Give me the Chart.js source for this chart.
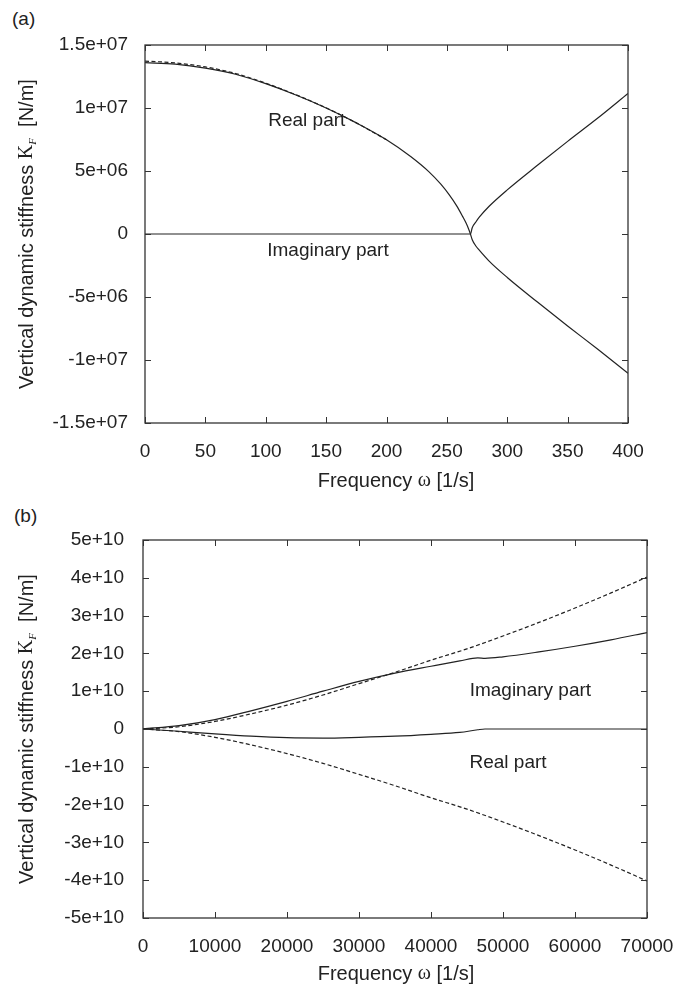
<!DOCTYPE html>
<html>
<head>
<meta charset="utf-8">
<script src="https://cdn.jsdelivr.net/npm/chart.js@4.4.0/dist/chart.umd.min.js"></script>
<style>
  body { margin: 0; background: #fff; width: 679px; height: 986px; overflow: hidden; position: relative; }
  canvas { position: absolute; left: 0; }
  .panel { position: absolute; font: 19px "Liberation Sans", Arial, sans-serif; color: #222; }
</style>
</head>
<body>
<div class="panel" style="left:12px; top:8px;">(a)</div>
<div class="panel" style="left:14px; top:505px;">(b)</div>
<canvas id="chartA" width="679" height="495" style="top:0"></canvas>
<canvas id="chartB" width="679" height="491" style="top:495px"></canvas>
<script>
// ---- panel (a): low frequency range ----
const freqA = [0, 25, 50, 75, 100, 125, 150, 175, 200, 220, 235, 245, 252, 258, 263, 266, 268, 269.5,
               271, 274, 277, 285, 300, 325, 350, 375, 400];
const realA = [13.6, 13.48, 13.17, 12.68, 11.93, 11.03, 10.0, 8.82, 7.48, 6.15, 4.95, 3.95, 3.1, 2.25, 1.4, 0.85, 0.4, 0,
               -0.45, -0.95, -1.3, -2.15, -3.45, -5.4, -7.3, -9.15, -11.05];
const imagA = [0, 0, 0, 0, 0, 0, 0, 0, 0, 0, 0, 0, 0, 0, 0, 0, 0, 0,
               0.5, 0.95, 1.35, 2.2, 3.5, 5.45, 7.35, 9.2, 11.15];
// approximation (dashed), merges with the real part
const freqApproxA = [0, 25, 50, 75, 100, 125, 150, 175, 200];
const realApproxA = [13.72, 13.58, 13.26, 12.74, 11.97, 11.05, 10.01, 8.82, 7.48];
const ticksXA = [0, 50, 100, 150, 200, 250, 300, 350, 400];
const ticksYA = [-1.5e7, -1e7, -5e6, 0, 5e6, 1e7, 1.5e7];

// ---- panel (b): high frequency range ----
const freqB = [0, 5000, 10000, 15000, 20000, 25000, 30000, 35000, 40000, 44000, 46500, 47500,
               50000, 55000, 60000, 65000, 70000];
const imagB = [0, 0.09, 0.25, 0.48, 0.73, 1.0, 1.26, 1.48, 1.66, 1.8, 1.88, 1.87,
               1.91, 2.04, 2.19, 2.36, 2.55];
const realB = [0, -0.06, -0.13, -0.19, -0.23, -0.24, -0.22, -0.19, -0.14, -0.09, -0.02, 0,
               0, 0, 0, 0, 0];
const freqApproxB = [0, 5000, 10000, 15000, 20000, 25000, 30000, 35000, 40000, 45000, 50000, 55000, 60000, 65000, 70000];
const imagApproxB = [0, 0.06, 0.2, 0.4, 0.63, 0.9, 1.2, 1.5, 1.82, 2.12, 2.46, 2.82, 3.2, 3.6, 4.02];
const realApproxB = [0, -0.07, -0.22, -0.42, -0.65, -0.91, -1.2, -1.5, -1.82, -2.12, -2.46, -2.82, -3.2, -3.6, -4.02];
const ticksXB = [0, 10000, 20000, 30000, 40000, 50000, 60000, 70000];
const ticksYB = [-5e10, -4e10, -3e10, -2e10, -1e10, 0, 1e10, 2e10, 3e10, 4e10, 5e10];

const labelsA = [
    { text: 'Real part', x: 134, y: 8.95e6 },
    { text: 'Imaginary part', x: 151.5, y: -1.3e6 }
];
const labelsB = [
    { text: 'Imaginary part', x: 53800, y: 1.0e10 },
    { text: 'Real part', x: 50700, y: -0.9e10 }
];

const FONT = '"Liberation Sans", Arial, sans-serif';
const SERIF = '"Liberation Serif", "DejaVu Serif", serif';
const INK = '#222';

function pts(xs, ys, scale) {
    return xs.map((x, i) => ({ x: x, y: ys[i] * scale }));
}

function sciLabel(v) {
    if (v === 0) return '0';
    return v.toExponential().replace(/e([+-])(\d+)$/, function (m, sign, d) {
        return 'e' + sign + (d.length < 2 ? '0' + d : d);
    });
}

function solid(data) {
    return { data: data, borderColor: INK, borderWidth: 1.2, pointRadius: 0, cubicInterpolationMode: 'monotone', fill: false };
}
function dashed(data) {
    return { data: data, borderColor: INK, borderWidth: 1.2, borderDash: [4, 2.5], pointRadius: 0, cubicInterpolationMode: 'monotone', fill: false };
}

// draw a run of text pieces (font, offset) centred on 0
function drawParts(ctx, parts) {
    let total = 0;
    parts.forEach(p => { ctx.font = p.f; p.w = ctx.measureText(p.t).width; total += p.w; });
    let cx = -total / 2;
    ctx.textAlign = 'left';
    ctx.textBaseline = 'middle';
    parts.forEach(p => {
        ctx.font = p.f;
        ctx.fillText(p.t, cx, p.dy);
        cx += p.w;
    });
}

// frame, inward ticks, annotations and axis titles
const framePlugin = {
    id: 'frame',
    afterDatasetsDraw(chart, args, opts) {
        const { ctx, chartArea: a, scales: { x, y } } = chart;
        ctx.save();
        ctx.strokeStyle = '#333';
        ctx.lineWidth = 1.3;
        ctx.strokeRect(a.left, a.top, a.right - a.left, a.bottom - a.top);
        ctx.lineWidth = 1;
        const len = 6;
        ctx.beginPath();
        x.ticks.forEach(t => {
            const px = Math.round(x.getPixelForValue(t.value)) + 0.5;
            ctx.moveTo(px, a.bottom); ctx.lineTo(px, a.bottom - len);
            ctx.moveTo(px, a.top); ctx.lineTo(px, a.top + len);
        });
        y.ticks.forEach(t => {
            const py = Math.round(y.getPixelForValue(t.value)) + 0.5;
            ctx.moveTo(a.left, py); ctx.lineTo(a.left + len, py);
            ctx.moveTo(a.right, py); ctx.lineTo(a.right - len, py);
        });
        ctx.stroke();

        ctx.fillStyle = INK;
        ctx.font = '19px ' + FONT;
        ctx.textAlign = 'center';
        ctx.textBaseline = 'middle';
        (opts.labels || []).forEach(l => {
            ctx.fillText(l.text, x.getPixelForValue(l.x), y.getPixelForValue(l.y));
        });

        // x title
        ctx.save();
        ctx.translate(396, opts.xTitleY);
        drawParts(ctx, [
            { t: 'Frequency ', f: '20px ' + FONT, dy: 0 },
            { t: 'ω', f: '20px ' + SERIF, dy: 0 },
            { t: ' [1/s]', f: '20px ' + FONT, dy: 0 }
        ]);
        ctx.restore();

        // rotated y title
        ctx.translate(27, (a.top + a.bottom) / 2);
        ctx.rotate(-Math.PI / 2);
        drawParts(ctx, [
            { t: 'Vertical dynamic stiffness ', f: '20px ' + FONT, dy: 0 },
            { t: 'K', f: '20px ' + SERIF, dy: 0 },
            { t: 'F', f: 'italic 11px ' + SERIF, dy: 6 },
            { t: '  [N/m]', f: '20px ' + FONT, dy: 0 }
        ]);
        ctx.restore();
    }
};

function makeChart(id, cfg) {
    return new Chart(document.getElementById(id), {
        type: 'line',
        data: { datasets: cfg.datasets },
        options: {
            responsive: false,
            animation: false,
            layout: { padding: { top: 45, right: cfg.padRight, left: 0, bottom: 0 } },
            plugins: {
                legend: { display: false },
                tooltip: { enabled: false },
                frame: { labels: cfg.labels, xTitleY: cfg.xTitleY }
            },
            scales: {
                x: {
                    type: 'linear',
                    min: cfg.xTicks[0],
                    max: cfg.xTicks[cfg.xTicks.length - 1],
                    afterBuildTicks: s => { s.ticks = cfg.xTicks.map(v => ({ value: v })); },
                    afterFit: s => { s.height = cfg.xHeight; s.paddingLeft = 0; s.paddingRight = 0; },
                    grid: { display: false, drawTicks: false },
                    border: { display: false },
                    ticks: { autoSkip: false, maxRotation: 0, padding: 17, color: INK, font: { family: FONT, size: 19 }, callback: v => String(v) }
                },
                y: {
                    type: 'linear',
                    min: cfg.yTicks[0],
                    max: cfg.yTicks[cfg.yTicks.length - 1],
                    afterBuildTicks: s => { s.ticks = cfg.yTicks.map(v => ({ value: v })); },
                    afterFit: s => { s.width = cfg.yWidth; s.paddingTop = 0; s.paddingBottom = 0; },
                    grid: { display: false, drawTicks: false },
                    border: { display: false },
                    ticks: { autoSkip: false, padding: cfg.yPad, color: INK, font: { family: FONT, size: 19 }, callback: v => sciLabel(v) }
                }
            }
        },
        plugins: [framePlugin]
    });
}

makeChart('chartA', {
    datasets: [
        dashed(pts(freqApproxA, realApproxA, 1e6)),
        solid(pts(freqA, realA, 1e6)),
        solid(pts(freqA, imagA, 1e6))
    ],
    labels: labelsA,
    xTicks: ticksXA, yTicks: ticksYA,
    padRight: 51, yWidth: 145, xHeight: 72, yPad: 17, xTitleY: 481
});

makeChart('chartB', {
    datasets: [
        dashed(pts(freqApproxB, imagApproxB, 1e10)),
        dashed(pts(freqApproxB, realApproxB, 1e10)),
        solid(pts(freqB, imagB, 1e10)),
        solid(pts(freqB, realB, 1e10))
    ],
    labels: labelsB,
    xTicks: ticksXB, yTicks: ticksYB,
    padRight: 32, yWidth: 143, xHeight: 68, yPad: 19, xTitleY: 479
});
</script>
</body>
</html>
